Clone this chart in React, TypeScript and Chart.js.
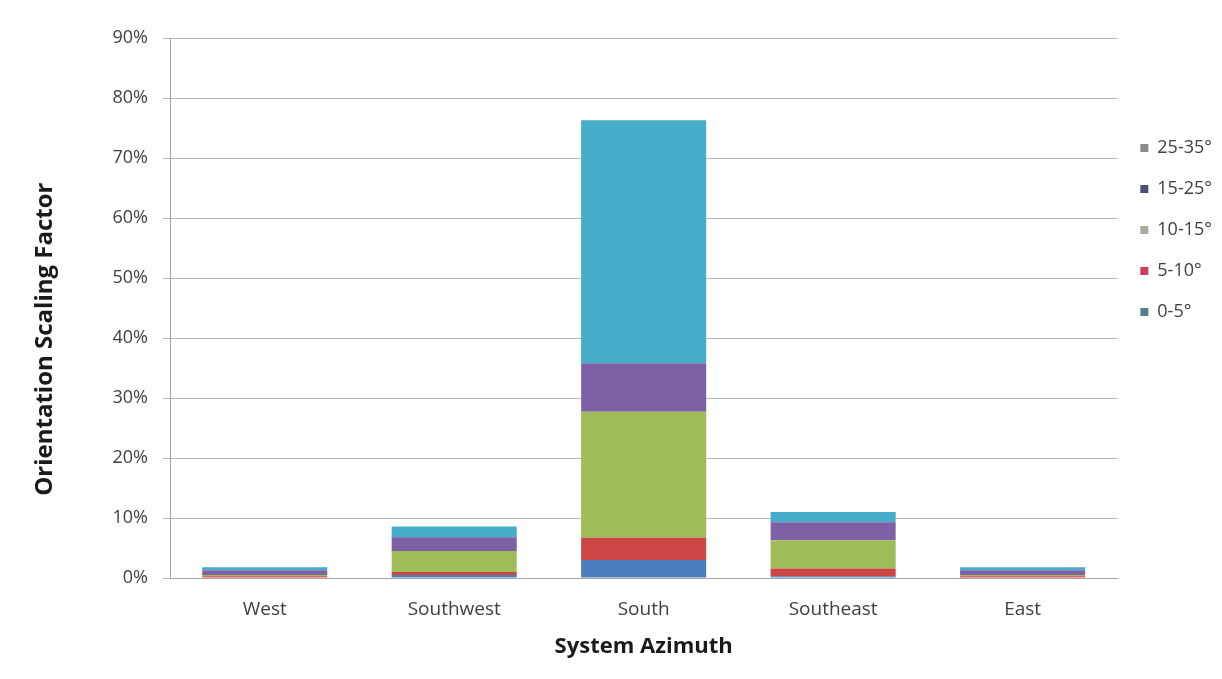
import React, { useEffect, useRef } from "react";
import { Chart, registerables } from "chart.js";

Chart.register(...registerables);

const categories = ["West", "Southwest", "South", "Southeast", "East"];
const seriesNames = ["0-5°", "5-10°", "10-15°", "15-25°", "25-35°"];
const tilt0to5 = [0.1, 0.5, 3.0, 0.3, 0.1];
const tilt5to10 = [0.2, 0.5, 3.7, 1.3, 0.2];
const tilt10to15 = [0.2, 3.5, 21.0, 4.7, 0.2];
const tilt15to25 = [0.8, 2.3, 8.1, 3.0, 0.8];
const tilt25to35 = [0.5, 1.8, 40.5, 1.7, 0.5];
const barColors = ["#4a7ebf", "#cc4646", "#9fbc58", "#7e60a6", "#46adc8"];
const legendSwatches = ["#527e88", "#c8405a", "#a6ad9e", "#4f4f78", "#8c8c8c"];

const FONT = "'Open Sans', sans-serif";

export default function App() {
  const ref = useRef<HTMLCanvasElement | null>(null);
  useEffect(() => {
    if (!ref.current) return;
    const values = [tilt0to5, tilt5to10, tilt10to15, tilt15to25, tilt25to35];
    const chart = new Chart(ref.current, {
      type: "bar",
      data: {
        labels: categories,
        datasets: seriesNames.map((name, i) => ({
          label: name,
          data: values[i],
          backgroundColor: barColors[i],
          borderWidth: 0,
          barPercentage: 0.66,
          categoryPercentage: 1,
        })),
      },
      options: {
        animation: false,
        responsive: true,
        maintainAspectRatio: false,
        layout: { padding: { top: 38, right: 0, bottom: 10, left: 18 } },
        plugins: {
          tooltip: { enabled: false },
          legend: {
            position: "right",
            align: "start",
            reverse: true,
            title: { display: true, text: " ", font: { size: 10 }, padding: { top: 66, bottom: 0 } },
            labels: {
              boxWidth: 8,
              boxHeight: 8,
              padding: 23,
              color: "#404040",
              font: { family: FONT, size: 18 },
              generateLabels: (c: any) => {
                const items = Chart.defaults.plugins.legend.labels.generateLabels(c);
                items.forEach((it: any) => {
                  it.fillStyle = legendSwatches[it.datasetIndex];
                  it.strokeStyle = legendSwatches[it.datasetIndex];
                  it.lineWidth = 0;
                });
                return items;
              },
            },
          },
        },
        scales: {
          x: {
            stacked: true,
            afterFit: (s: any) => {
              s.height = 91;
            },
            grid: { display: false, drawTicks: false },
            border: { display: true, color: "#a6a6a6" },
            ticks: { color: "#404040", font: { family: FONT, size: 19 }, padding: 20 },
            title: {
              display: true,
              text: "System Azimuth",
              color: "#1a1a1a",
              font: { family: FONT, size: 22, weight: "bold" },
              padding: { top: 0, bottom: 9 },
            },
          },
          y: {
            stacked: true,
            min: 0,
            max: 90,
            afterFit: (s: any) => {
              s.width = 152;
            },
            ticks: {
              stepSize: 10,
              color: "#404040",
              font: { family: FONT, size: 18 },
              padding: 15,
              callback: (v: any) => v + "%",
            },
            grid: { color: "#b8b8b8", tickLength: 7, lineWidth: 1 },
            border: { display: true, color: "#a6a6a6" },
            title: {
              display: true,
              text: "Orientation Scaling Factor          ",
              color: "#1a1a1a",
              font: { family: FONT, size: 24, weight: "bold" },
              padding: { top: 13, bottom: 10 },
            },
          },
        },
      },
    });
    return () => chart.destroy();
  }, []);
  return (
    <div style={{ position: "absolute", left: 0, top: 0, width: 1222, height: 679 }}>
      <canvas ref={ref} />
    </div>
  );
}
